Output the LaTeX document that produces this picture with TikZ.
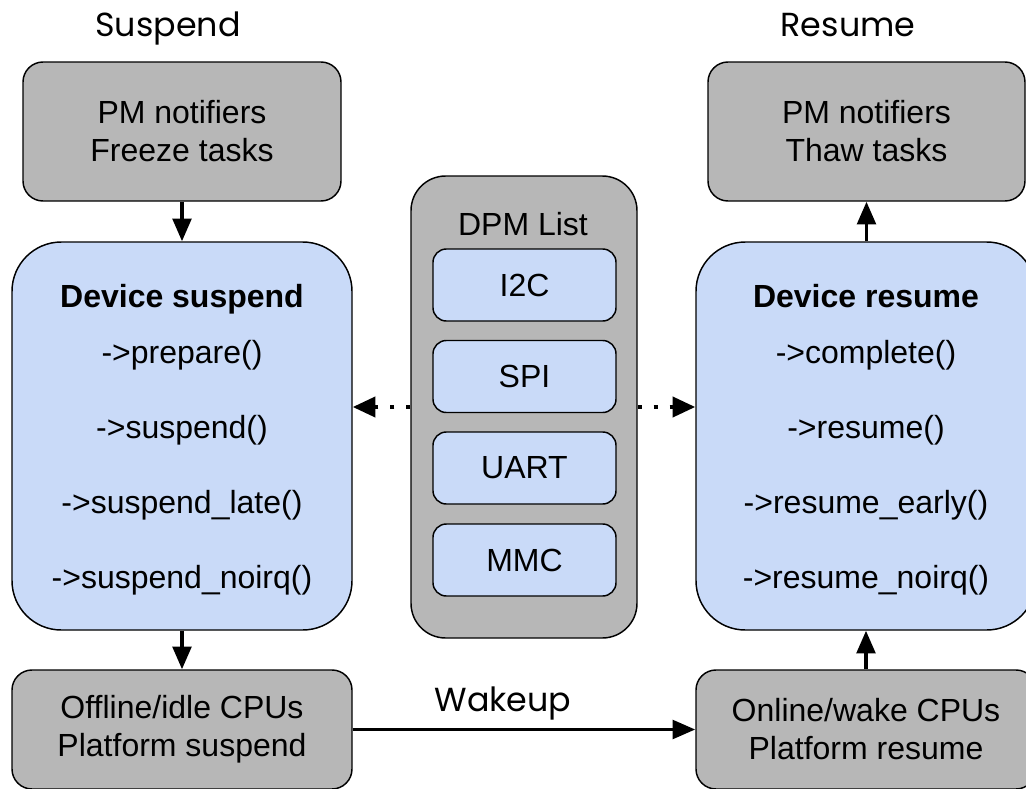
\documentclass[tikz,border=0pt]{standalone}
\usepackage{fontspec}
\setmainfont{Liberation Sans}
\newfontfamily\titlefont{Poppins}
\usetikzlibrary{arrows.meta}
\definecolor{boxgray}{HTML}{B7B7B7}
\definecolor{boxblue}{HTML}{C9DAF8}
\begin{document}
\begin{tikzpicture}[x=0.75pt,y=-0.75pt,
  box/.style={draw=black, line width=1.1pt, rounded corners=15pt, align=center, font=\fontsize{24}{28.5}\selectfont, inner sep=0pt},
  graybox/.style={box, fill=boxgray},
  bluebox/.style={box, fill=boxblue},
  txt/.style={font=\fontsize{24}{28.5}\selectfont, inner sep=0pt},
  ttl/.style={font=\titlefont\fontsize{25}{30}\selectfont, inner sep=0pt, anchor=base},
  flow/.style={line width=2.6pt, -{Triangle[length=17pt,width=14pt]}},
  dots/.style={line width=3pt, dash pattern=on 3pt off 9pt, -{Triangle[length=17pt,width=15pt]}}]
\useasboundingbox (0,0) rectangle (1026,789);
\clip (0,0) rectangle (1026,789);
% titles
\node[ttl] (tS) at (168,36) {Suspend};
\node[ttl] (tR) at (848,36) {Resume};
% left column
\node[graybox, minimum width=238.5pt, minimum height=104.25pt] (topL) at (182,131.5) {PM notifiers\\Freeze tasks};
\node[bluebox, rounded corners=37pt, minimum width=255pt, minimum height=291pt] (devS) at (182,436) {};
\node[graybox, minimum width=255pt, minimum height=89.25pt] (botL) at (182,729.5) {Offline/idle CPUs\\Platform suspend};
\node[txt, anchor=base] (dsT) at (182,307) {\textbf{Device suspend}};
\node[txt] (ds1) at (182,355) {->prepare()};
\node[txt] (ds2) at (182,430) {->suspend()};
\node[txt] (ds3) at (182,505) {->suspend\_late()};
\node[txt] (ds4) at (182,580) {->suspend\_noirq()};
% right column
\node[graybox, minimum width=237.75pt, minimum height=104.25pt] (topR) at (866.5,131.5) {PM notifiers\\Thaw tasks};
\node[bluebox, rounded corners=37pt, minimum width=255pt, minimum height=291pt] (devR) at (866,436) {};
\node[graybox, minimum width=255pt, minimum height=89.25pt] (botR) at (866,729.5) {Online/wake CPUs\\Platform resume};
\node[txt, anchor=base] (drT) at (866,307) {\textbf{Device resume}};
\node[txt] (dr1) at (866,355) {->complete()};
\node[txt] (dr2) at (866,430) {->resume()};
\node[txt] (dr3) at (866,505) {->resume\_early()};
\node[txt] (dr4) at (866,580) {->resume\_noirq()};
% DPM list
\node[graybox, rounded corners=26pt, minimum width=169.5pt, minimum height=346.5pt] (dpm) at (524,407) {};
\node[txt, anchor=base] (dpmT) at (523,235) {DPM List};
\node[bluebox, rounded corners=10pt, minimum width=137.25pt, minimum height=54pt] (i2c) at (524.5,285) {I2C};
\node[bluebox, rounded corners=10pt, minimum width=137.25pt, minimum height=54pt] (spi) at (524.5,376.5) {SPI};
\node[bluebox, rounded corners=10pt, minimum width=137.25pt, minimum height=54pt] (uart) at (524.5,468) {UART};
\node[bluebox, rounded corners=10pt, minimum width=137.25pt, minimum height=54pt] (mmc) at (524.5,560) {MMC};
% connectors
\draw[flow] (topL.south) -- (devS.north);
\draw[flow] (devS.south) -- (botL.north);
\draw[flow] (devR.north -| topR.south) -- (topR.south);
\draw[flow] (botR.north) -- (devR.south);
\draw[flow] (botL.east) -- (botR.west);
\node[ttl] (wk) at (503,711) {Wakeup};
\draw[dots] (dpm.west) -- (dpm.west -| devS.east);
\draw[dots] (dpm.east) -- (dpm.east -| devR.west);
\end{tikzpicture}
\end{document}
